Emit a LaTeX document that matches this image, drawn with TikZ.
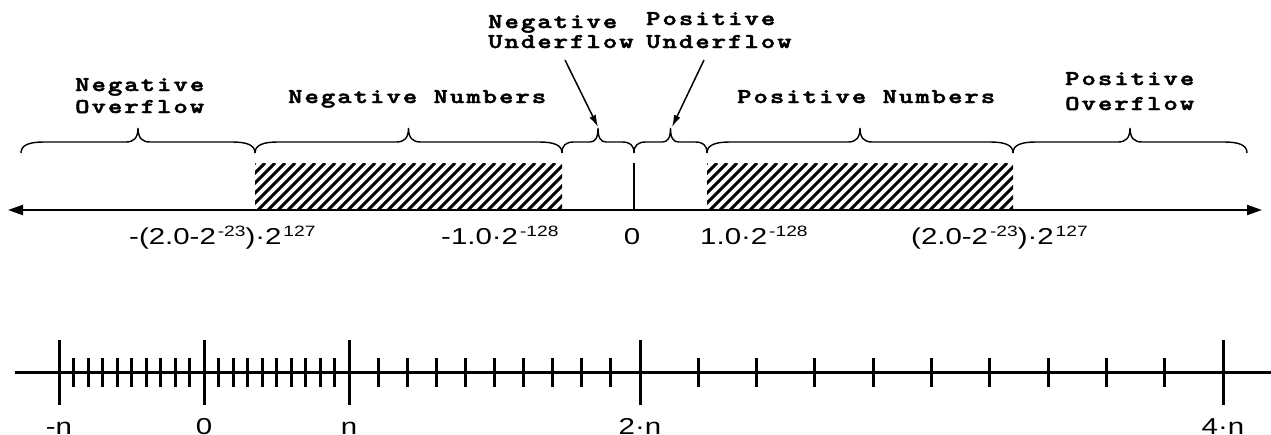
\documentclass[tikz,border=0pt]{standalone}
\usepackage{fontspec}
\usepackage{graphicx}
\setmainfont{Liberation Sans}
\newfontfamily\cour{lmmonolt10-bold.otf}[LetterSpace=7.5,FakeBold=2]
\usetikzlibrary{arrows.meta}
\newcommand\sxx[1]{\scalebox{1.28}[1]{#1}}
\newcommand\scc[1]{\scalebox{1.3}[1]{#1}}
\newcommand\sps[1]{\kern1.5pt\raisebox{8pt}{\fontsize{15}{15}\selectfont #1}}
\newcommand\brc[4]{\draw[bracestyle] (#1,153) .. controls (#1,145) and ({#1+0.35*#3},142) .. ({#1+#3},142) -- ({(#1+#2)/2-#4},142) .. controls ({(#1+#2)/2-0.35*#4},142) and ({(#1+#2)/2},138) .. ({(#1+#2)/2},128) .. controls ({(#1+#2)/2},138) and ({(#1+#2)/2+0.35*#4},142) .. ({(#1+#2)/2+#4},142) -- ({#2-#3},142) .. controls ({#2-0.35*#3},142) and (#2,145) .. (#2,153);}
\tikzset{
  bracestyle/.style={line width=1.4pt, black},
  courlab/.style={font=\cour\fontsize{21}{22}\selectfont, anchor=base west, inner sep=0pt},
  numlab/.style={font=\fontsize{23}{27}\selectfont, anchor=base west, inner sep=0pt},
  ticklab/.style={font=\fontsize{23}{27}\selectfont, anchor=base, inner sep=0pt},
  hatchline/.style={line width=3pt},
  axisline/.style={line width=2.2pt},
  pointer/.style={line width=1.5pt, -{Latex[length=12pt,width=7pt]}},
  bigtick/.style={line width=3pt},
  smalltick/.style={line width=3pt},
}
\begin{document}
\begin{tikzpicture}[x=1pt,y=-1pt]
\useasboundingbox (0,0) rectangle (1271,434);
% ---- text labels (Courier-like) ----
\node[courlab] (no1) at (75,91) {\scc{Negative}};
\node[courlab] (no2) at (75,113) {\scc{Overflow}};
\node[courlab] (nn) at (288,103) {\scc{Negative Numbers}};
\node[courlab] (nu1) at (488,28) {\scc{Negative}};
\node[courlab] (nu2) at (488,48) {\scc{Underflow}};
\node[courlab] (pu1) at (646,25) {\scc{Positive}};
\node[courlab] (pu2) at (646,48) {\scc{Underflow}};
\node[courlab] (pn) at (737,103) {\scc{Positive Numbers}};
\node[courlab] (po1) at (1065,85) {\scc{Positive}};
\node[courlab] (po2) at (1065,110) {\scc{Overflow}};
% ---- braces ----
\brc{21}{255}{23}{12}
\brc{255}{562}{23}{12}
\brc{562}{634}{12}{8}
\brc{634}{707}{12}{8}
\brc{707}{1013}{23}{12}
\brc{1013}{1247}{23}{12}
% ---- pointer arrows ----
\coordinate (nuA) at (565,60);
\coordinate (nuT) at (598,127);
\coordinate (puA) at (704,60);
\coordinate (puT) at (672,127);
\draw[pointer] (nuA) -- (nuT);
\draw[pointer] (puA) -- (puT);
% ---- hatched areas ----
\begin{scope}
  \clip (255,163) rectangle (562,210);
  \foreach \k in {0,...,37} \draw[hatchline] ({255-47+10*\k},210) -- ++(47,-47);
\end{scope}
\begin{scope}
  \clip (707,163) rectangle (1013,210);
  \foreach \k in {0,...,37} \draw[hatchline] ({707-47+10*\k},210) -- ++(47,-47);
\end{scope}
% ---- top axis ----
\coordinate (axL) at (8,210);
\coordinate (axR) at (1262,210);
\draw[axisline, {Triangle[length=15pt,width=10pt]}-{Triangle[length=15pt,width=10pt]}] (axL) -- (axR);
\coordinate (zt) at (634,163);
\coordinate (zb) at (634,210);
\draw[line width=2.5pt] (zt) -- (zb);
% ---- top number labels ----
\node[numlab] (v1) at (129,244) {\sxx{-(2.0-2\sps{-23})·2\sps{127}}};
\node[numlab] (v2) at (441,244) {\sxx{-1.0·2\sps{-128}}};
\node[ticklab] (v3) at (632,244) {\sxx{0}};
\node[numlab] (v4) at (700,244) {\sxx{1.0·2\sps{-128}}};
\node[numlab] (v5) at (911,244) {\sxx{(2.0-2\sps{-23})·2\sps{127}}};
% ---- bottom axis ----
\coordinate (bL) at (15,372);
\coordinate (bR) at (1271,372);
\draw[line width=3pt] (bL) -- (bR);
\foreach \x in {59,204,349,640,1223} \draw[bigtick] (\x,340) -- (\x,405);
\foreach \i in {1,...,9} {
  \draw[smalltick] ({59+14.5*\i},358) -- ({59+14.5*\i},387);
  \draw[smalltick] ({204+14.5*\i},358) -- ({204+14.5*\i},387);
  \draw[smalltick] ({349+29.1*\i},358) -- ({349+29.1*\i},387);
  \draw[smalltick] ({640+58.3*\i},358) -- ({640+58.3*\i},387);
}
\node[ticklab] (t1) at (59,434) {\sxx{-n}};
\node[ticklab] (t2) at (204,434) {\sxx{0}};
\node[ticklab] (t3) at (349,434) {\sxx{n}};
\node[ticklab] (t4) at (640,434) {\sxx{2·n}};
\node[ticklab] (t5) at (1223,434) {\sxx{4·n}};
\end{tikzpicture}
\end{document}
